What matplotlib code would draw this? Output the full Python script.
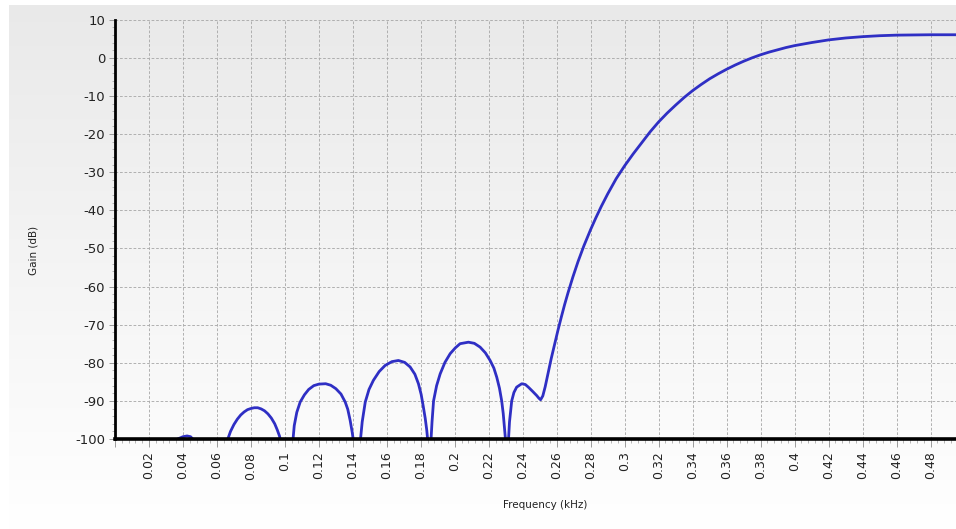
import numpy as np
import matplotlib
matplotlib.use("Agg")
import matplotlib.pyplot as plt
from matplotlib.ticker import MultipleLocator, FuncFormatter

# frequency (kHz) / gain (dB) pairs
# (values below -100 dB are clipped by the axis, as in the original)
bump_f = [0.000, 0.030, 0.0350, 0.0369, 0.0400, 0.0424, 0.0445, 0.0457, 0.0480, 0.0560]
bump_g = [-130, -110, -103, -100, -99.4, -99.2, -99.4, -100, -104, -110]

lobe2_f = [0.0640, 0.0664, 0.0680, 0.0700, 0.0720, 0.0740, 0.0760, 0.0780, 0.0800,
           0.0820, 0.0840, 0.0860, 0.0880, 0.0900, 0.0920, 0.0940, 0.0955, 0.0968,
           0.0978, 0.0990]
lobe2_g = [-106, -100, -98.0, -96.2, -94.8, -93.7, -92.9, -92.3, -92.0,
           -91.8, -91.8, -92.1, -92.6, -93.4, -94.5, -96.0, -97.6, -99.2,
           -101, -106]

lobe3_f = [0.1035, 0.1046, 0.1055, 0.1070, 0.1090, 0.1115, 0.1140, 0.1170, 0.1200,
           0.1240, 0.1270, 0.1300, 0.1330, 0.1355, 0.1370, 0.1384, 0.1396, 0.1405,
           0.1412]
lobe3_g = [-108, -101, -96.5, -93.0, -90.3, -88.4, -87.0, -86.0, -85.6,
           -85.5, -85.9, -86.8, -88.2, -90.3, -92.2, -95.1, -98.2, -101,
           -108]

lobe4_f = [0.1432, 0.1443, 0.1455, 0.1473, 0.1495, 0.1521, 0.1555, 0.1590, 0.1630,
           0.1668, 0.1705, 0.1737, 0.1765, 0.1786, 0.1802, 0.1815, 0.1826, 0.1835,
           0.1842, 0.1850]
lobe4_g = [-108, -101, -95.5, -90.3, -87.0, -84.6, -82.3, -80.7, -79.7,
           -79.4, -79.9, -81.1, -83.0, -85.5, -88.3, -91.6, -94.6, -97.7,
           -101, -108]

lobe5_f = [0.1852, 0.1859, 0.1866, 0.1875, 0.1893, 0.1914, 0.1942, 0.1973, 0.2003,
           0.2031, 0.2080, 0.2115, 0.2149, 0.2180, 0.2208, 0.2230, 0.2247, 0.2263,
           0.2276, 0.2285, 0.2292, 0.2300, 0.2307]
lobe5_g = [-108, -101, -95.5, -90.0, -86.0, -82.9, -79.9, -77.6, -76.1,
           -75.0, -74.6, -74.9, -75.9, -77.4, -79.4, -81.4, -83.8, -86.7,
           -90.0, -93.3, -97.0, -101, -108]

rise_f = [0.2310, 0.2315, 0.2322, 0.2335, 0.2348, 0.2364, 0.2394, 0.2415, 0.2433,
          0.2458, 0.2482, 0.2495, 0.2505, 0.2518, 0.2532, 0.2548, 0.2567, 0.2587,
          0.2607, 0.2627, 0.2646, 0.2666, 0.2695, 0.2725, 0.2760, 0.2800, 0.2830,
          0.2862, 0.2900, 0.2950, 0.3000, 0.3050, 0.3100, 0.3150, 0.3200, 0.3250,
          0.3300, 0.3350, 0.3400, 0.3450, 0.3500, 0.3550, 0.3600, 0.3650, 0.3700,
          0.3750, 0.3800, 0.3850, 0.3900, 0.3950, 0.4000, 0.4100, 0.4200, 0.4300,
          0.4400, 0.4500, 0.4600, 0.4700, 0.4800, 0.4960]
rise_g = [-108, -101, -95.5, -90.0, -87.8, -86.4, -85.5, -85.7, -86.4,
          -87.5, -88.6, -89.3, -89.7, -88.7, -86.3, -82.9, -79.0, -75.2,
          -71.5, -68.0, -64.8, -61.7, -57.5, -53.5, -49.3, -45.0, -42.0,
          -39.0, -35.7, -31.7, -28.3, -25.2, -22.3, -19.4, -16.8, -14.5,
          -12.4, -10.4, -8.6, -7.0, -5.5, -4.2, -3.0, -1.9, -0.9,
          0.0, 0.8, 1.5, 2.1, 2.7, 3.2, 4.0, 4.7, 5.2,
          5.55, 5.8, 5.95, 6.0, 6.05, 6.05]

freq_khz = bump_f + lobe2_f + lobe3_f + lobe4_f + lobe5_f + rise_f
gain_db = bump_g + lobe2_g + lobe3_g + lobe4_g + lobe5_g + rise_g

fig = plt.figure(figsize=(9.56, 5.29), dpi=100)
fig.patch.set_facecolor("white")

# soft vertical gradient behind the whole chart panel
bg = fig.add_axes([0.009, 0.0, 0.991, 0.99], zorder=-10)
grad = np.linspace(0.915, 1.0, 256).reshape(-1, 1)
bg.imshow(np.dstack([grad, grad, grad]), aspect="auto", extent=[0, 1, 0, 1],
          origin="upper", interpolation="bicubic")
bg.set_axis_off()

ax = fig.add_axes([115 / 956, 90 / 529, 1 - 115 / 956, 419.3 / 529])
ax.set_facecolor("none")

ax.plot(freq_khz, gain_db, color="#2f2fc4", linewidth=2.0, zorder=3,
        solid_capstyle="round", solid_joinstyle="round")

ax.set_xlim(0, 0.495)
ax.set_ylim(-100, 10)

ax.xaxis.set_major_locator(MultipleLocator(0.02))
ax.xaxis.set_minor_locator(MultipleLocator(0.004))
ax.yaxis.set_major_locator(MultipleLocator(10))
ax.yaxis.set_minor_locator(MultipleLocator(2))


def fmt_x(v, pos):
    if v < 1e-9:
        return ""
    return ("%.2f" % v).rstrip("0").rstrip(".")


ax.xaxis.set_major_formatter(FuncFormatter(fmt_x))
ax.yaxis.set_major_formatter(FuncFormatter(lambda v, p: "%d" % round(v)))

ax.grid(True, which="major", color="#ababab", linestyle=(0, (3, 2)),
        linewidth=0.65)

for side in ("top", "right"):
    ax.spines[side].set_visible(False)
ax.spines["left"].set_linewidth(2.0)
ax.spines["bottom"].set_linewidth(2.6)
ax.spines["left"].set_zorder(4)
ax.spines["bottom"].set_zorder(4)

ax.tick_params(axis="x", which="major", length=6, width=0.7, color="#9a9a9a",
               labelsize=9, labelrotation=90, labelcolor="#222222", pad=3)
ax.tick_params(axis="x", which="minor", length=3, width=0.6, color="#aaaaaa")
ax.tick_params(axis="y", which="major", length=4, width=0.7, color="#9a9a9a",
               labelsize=9.5, labelcolor="#222222", pad=3)
ax.tick_params(axis="y", which="minor", length=2, width=0.6, color="#aaaaaa")

fig.text(545 / 956, 1 - 505 / 529, "Frequency (kHz)", ha="center",
         va="center", fontsize=7.5, color="#222222")
fig.text(33 / 956, 1 - 250 / 529, "Gain (dB)", ha="center", va="center",
         rotation=90, fontsize=7.5, color="#222222")

fig.savefig("out.png", dpi=100, facecolor=fig.get_facecolor())
